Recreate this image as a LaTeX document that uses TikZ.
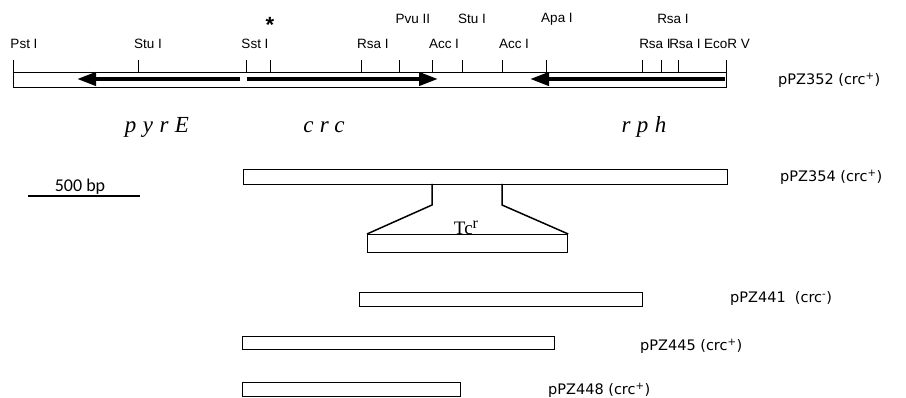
\documentclass[tikz,border=0pt]{standalone}
\usepackage{fontspec}
\setmainfont{Liberation Serif}
\newfontfamily\sitefont{Liberation Sans}
\newfontfamily\plasfont{DejaVu Sans}
\newfontfamily\barfont{Carlito}
\newfontfamily\genefont[LetterSpace=28]{Liberation Serif}
\usetikzlibrary{arrows.meta, positioning}

\begin{document}
\begin{tikzpicture}[
  x=1pt, y=-1pt,
  site/.style={font=\sitefont\fontsize{13.5}{16}\selectfont, inner sep=0pt},
  plas/.style={font=\plasfont\fontsize{14.5}{17}\selectfont, inner sep=0pt, anchor=west},
  gene/.style={font=\genefont\itshape\fontsize{23}{27}\selectfont, inner sep=0pt, anchor=base},
  frag/.style={draw, line width=1.2pt, inner sep=0pt, anchor=north west},
  orf/.style={-{Triangle[length=19pt, width=13pt]}, line width=4pt},
  cut/.style={line width=1pt},
  ins/.style={line width=1.5pt}
]
\useasboundingbox (0,0) rectangle (906,398);

% restriction map of pPZ352
\node[frag, minimum width=713pt, minimum height=15pt] (map) at (13,72) {};
\foreach \x in {13,138,246,270,361,399,432,462,502,546,642,661,678,726}
  \draw[cut] (\x,60) -- (\x,72);

\node[site] (pst) at (24,44) {Pst I};
\node[site] (stu1) at (148,44) {Stu I};
\node[site] (sst) at (255,44) {Sst I};
\node[site] (rsa1) at (373,44) {Rsa I};
\node[site] (acc1) at (444,44) {Acc I};
\node[site] (acc2) at (514,44) {Acc I};
\node[site] (rsa2) at (655,44) {Rsa I};
\node[site] (rsa3) at (685,44) {Rsa I};
\node[site] (ecor) at (727,44) {EcoR V};
\node[site] (pvu) at (413,19) {Pvu II};
\node[site] (stu2) at (472,19) {Stu I};
\node[site] (apa) at (557,19) {Apa I};
\node[site] (rsa4) at (673,19) {Rsa I};
\node[font=\sitefont\bfseries\fontsize{22}{24}\selectfont, inner sep=0pt] (star) at (270,25) {*};

% open reading frames
\coordinate (pyrEa) at (240,79);
\coordinate (pyrEb) at (77,79);
\coordinate (crca) at (247,79);
\coordinate (crcb) at (438,79);
\coordinate (rpha) at (725,79);
\coordinate (rphb) at (530,79);
\draw[orf] (pyrEa) -- (pyrEb);
\draw[orf] (crca) -- (crcb);
\draw[orf] (rpha) -- (rphb);

\node[gene] (pyrE) at (157,133) {pyrE};
\node[gene] (crc) at (324,133) {crc};
\node[gene] (rph) at (644,133) {rph};

\node[plas] (l352) at (778,80) {pPZ352 (crc\textsuperscript{+})};

% scale bar
\coordinate (sbL) at (28,196);
\coordinate (sbR) at (140,196);
\draw[line width=2pt] (sbL) -- (sbR);
\node[font=\barfont\fontsize{18}{21}\selectfont, inner sep=0pt, anchor=base] (bp) at (80,192) {500 bp};

% subclones
\node[frag, minimum width=484pt, minimum height=15pt] (p354) at (243,169) {};
\node[plas] (l354) at (780,177) {pPZ354 (crc\textsuperscript{+})};

\node[frag, minimum width=200pt, minimum height=18pt] (tc) at (367,234) {};
\draw[ins] (432,184) -- (432,205) -- (tc.north west);
\draw[ins] (502,184) -- (502,205) -- (tc.north east);
\node[font=\fontsize{19}{22}\selectfont, inner sep=0pt, anchor=base] (tcr) at (466,235)
  {Tc\raisebox{6pt}{\fontsize{16}{18}\selectfont r}};

\node[frag, minimum width=283pt, minimum height=14pt] (p441) at (359,292) {};
\node[plas] (l441) at (730,299) {pPZ441\ \ (crc\textsuperscript{-})};

\node[frag, minimum width=312pt, minimum height=13pt] (p445) at (242,336) {};
\node[plas] (l445) at (640,346) {pPZ445 (crc\textsuperscript{+})};

\node[frag, minimum width=218pt, minimum height=14pt] (p448) at (242,382) {};
\node[plas] (l448) at (548,390) {pPZ448 (crc\textsuperscript{+})};
\end{tikzpicture}
\end{document}
